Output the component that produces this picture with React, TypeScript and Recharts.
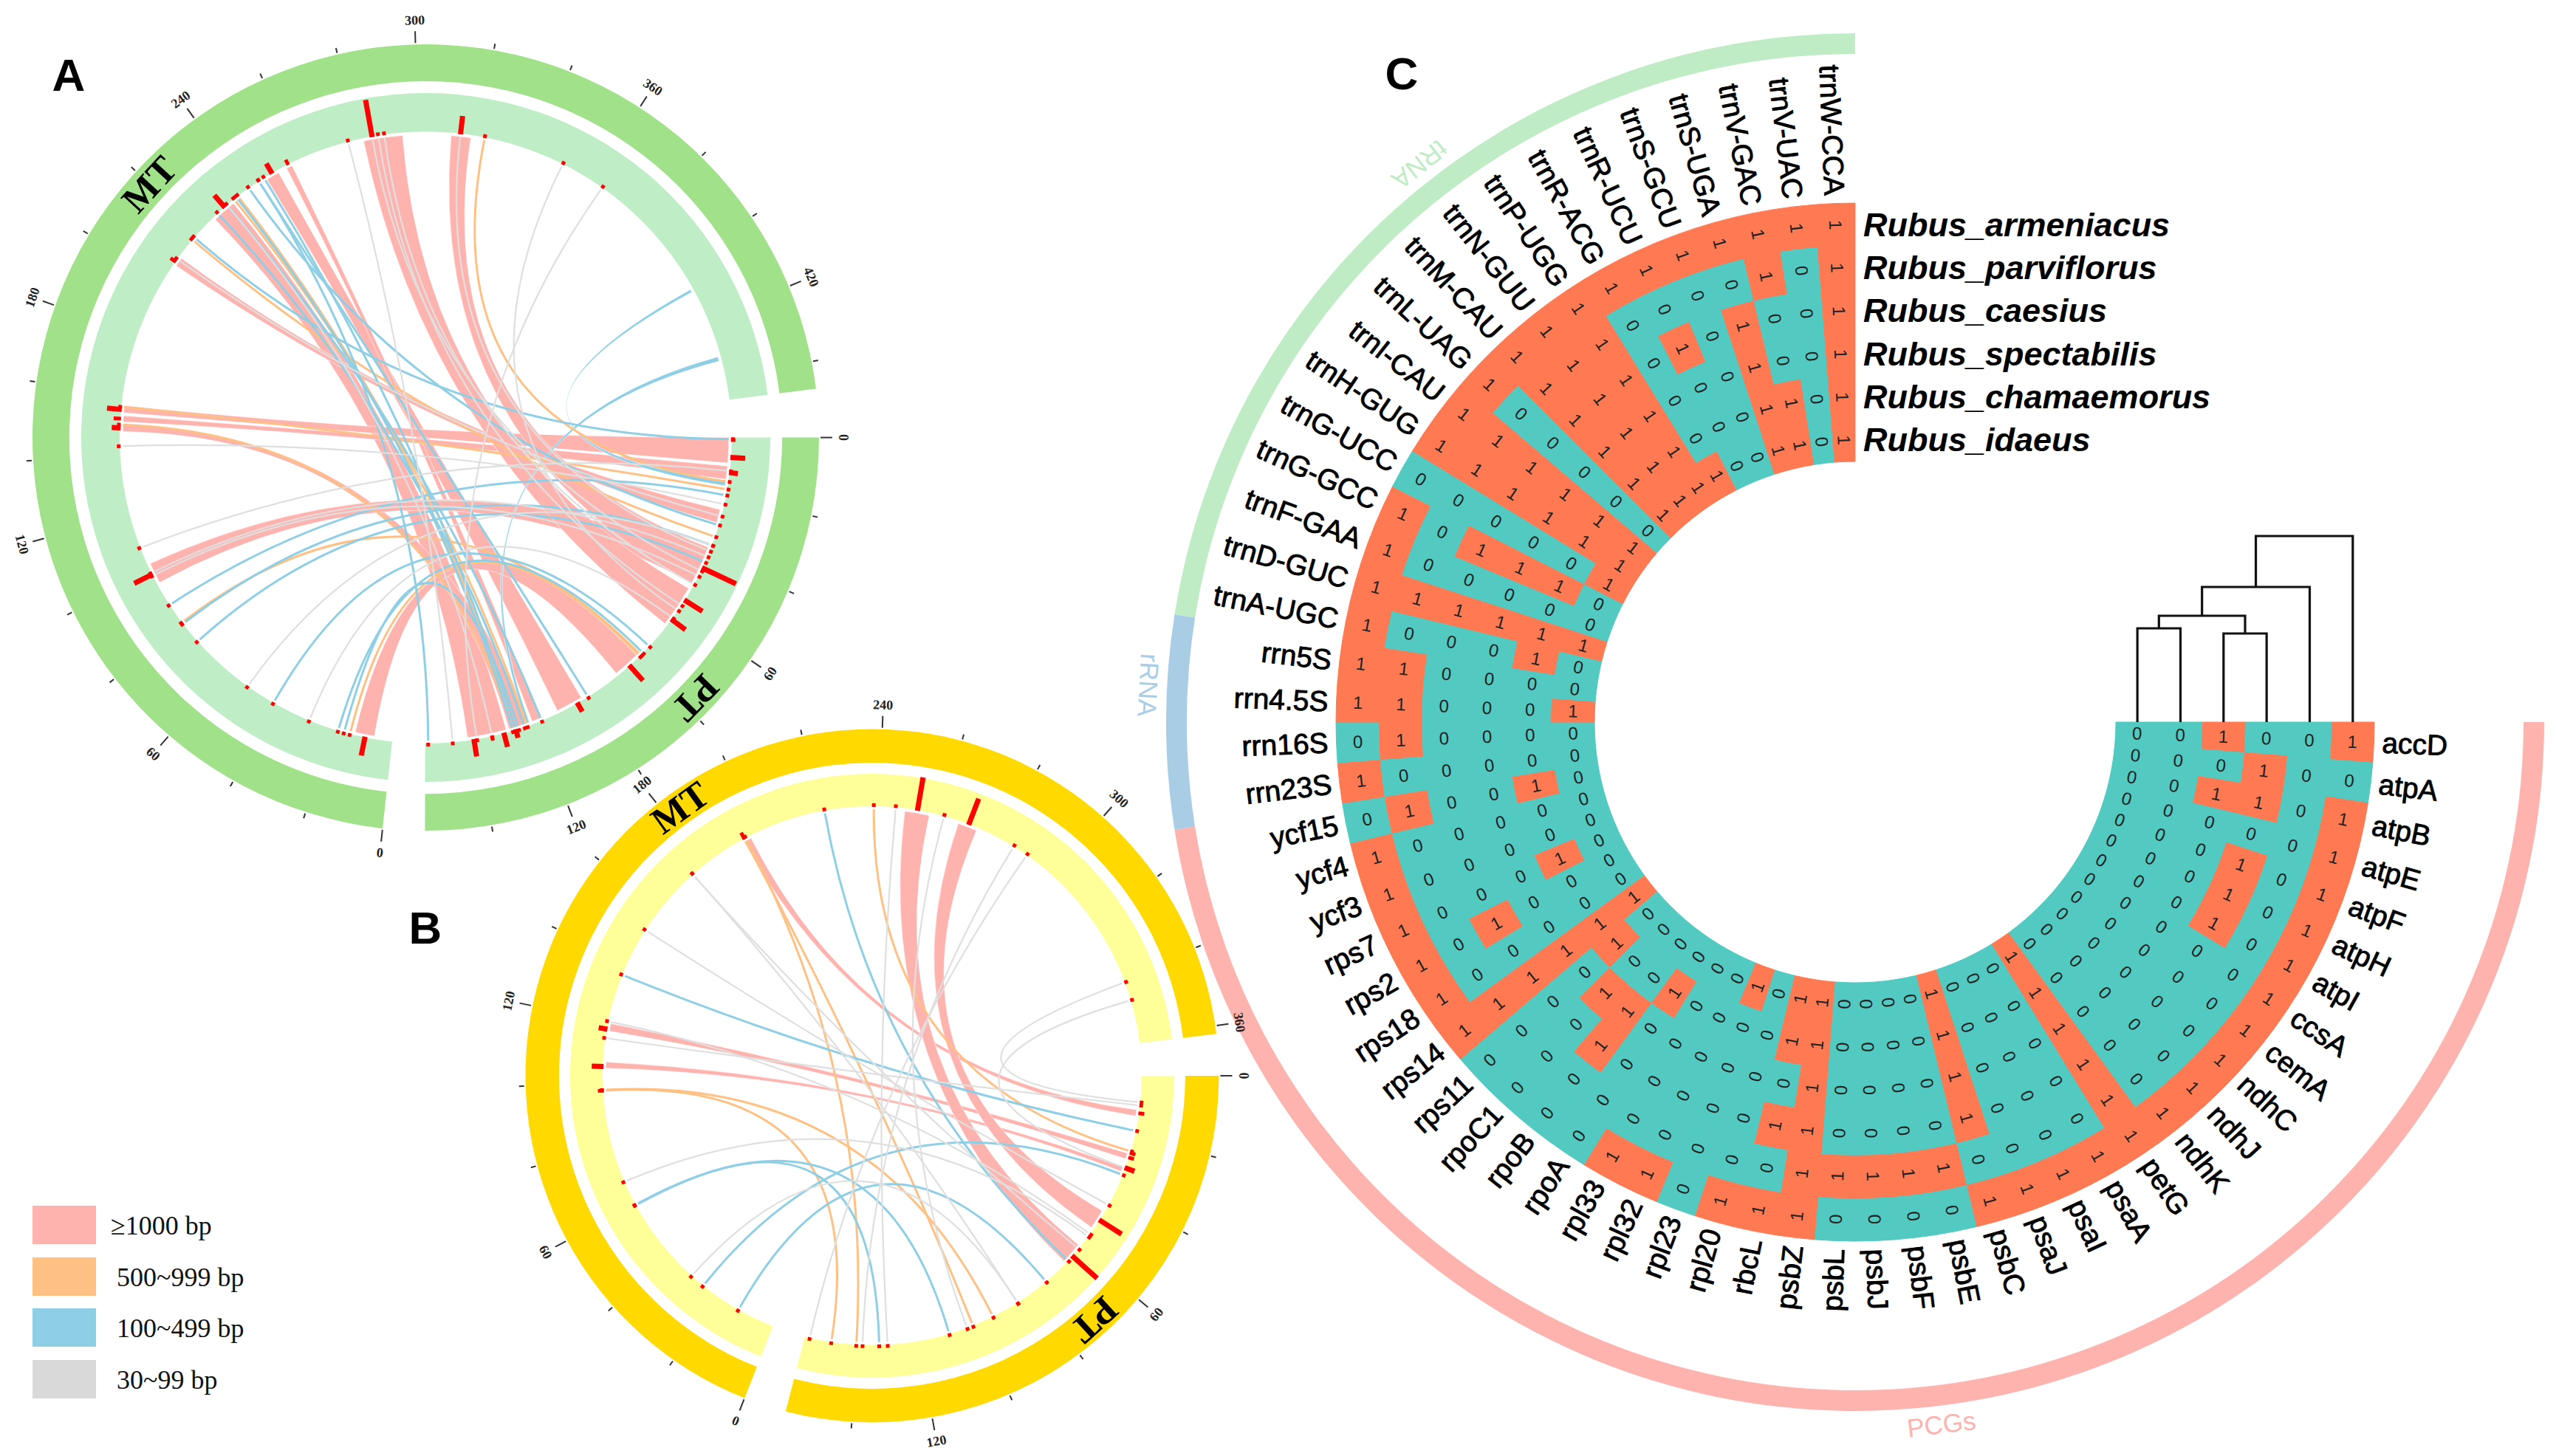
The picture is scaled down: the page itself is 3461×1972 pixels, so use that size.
import React from "react"
import { Pie, PieChart, Surface } from "recharts"

const WIDTH = 3461
const HEIGHT = 1972
const SANS = "'Liberation Sans', Arial, sans-serif"
const SERIF = "'Liberation Serif', 'Times New Roman', serif"

// panel C: presence of each gene, outer ring (armeniacus) to inner ring (idaeus)
const species = [
  "Rubus_armeniacus", "Rubus_parviflorus", "Rubus_caesius",
  "Rubus_spectabilis", "Rubus_chamaemorus", "Rubus_idaeus",
]
const genes = [
  "accD", "atpA", "atpB", "atpE", "atpF", "atpH", "atpI", "ccsA", "cemA", "ndhC",
  "ndhJ", "ndhK", "petG", "psaA", "psaI", "psaJ", "psbC", "psbE", "psbF", "psbJ",
  "psbL", "psbZ", "rbcL", "rpl20", "rpl23", "rpl32", "rpl33", "rpoA", "rpoB", "rpoC1",
  "rps11", "rps14", "rps18", "rps2", "rps7", "ycf3", "ycf4", "ycf15", "rrn23S", "rrn16S",
  "rrn4.5S", "rrn5S", "trnA-UGC", "trnD-GUC", "trnF-GAA", "trnG-GCC", "trnG-UCC", "trnH-GUG", "trnI-CAU", "trnL-UAG",
  "trnM-CAU", "trnN-GUU", "trnP-UGG", "trnR-ACG", "trnR-UCU", "trnS-GCU", "trnS-UGA", "trnV-GAC", "trnV-UAC", "trnW-CCA",
]
const presence = [
  "100100", "001000", "101100", "100000", "101000", "101000", "101000", "100000", "100000", "100000",
  "100000", "100000", "111111", "100000", "100000", "100000", "101111", "010000", "010000", "010000",
  "010000", "111111", "101011", "100000", "000001", "100000", "100000", "000010", "001100", "000100",
  "000010", "111111", "100000", "101000", "100010", "100000", "100000", "010010", "100000", "010000",
  "110001", "110000", "100010", "111111", "100000", "101110", "000001", "111111", "111111", "100000",
  "111111", "111111", "111111", "100001", "101000", "100000", "101111", "110011", "100000", "111111",
]
const bandGroups = ["PCGs", "rRNA", "tRNA"]
const bandCounts = [38, 4, 18]
const bandColors = ["#FFB3AE", "#A8CDE5", "#BFECC5"]
const bandLabelClock = [83, 183, 232]

// dendrogram over the six rings: column or node position, merge height
const dendroMerges = [
  [0, 0, 1, 0, 127],
  [2, 0, 3, 0, 120],
  [0.5, 127, 2.5, 120, 144],
  [1.5, 144, 4, 0, 183],
  [2.75, 183, 5, 0, 252],
]

// panels A and B: ribbons are [mtFrom, mtTo, ptFrom, ptTo, class] in kb
// threads are [mt, pt, class], marks are [kb, bar length]
const ribbonsA = [
  [226, 234, 130, 143, 0], [247.6, 252, 103, 112, 0], [255, 257, 118, 121, 0],
  [206, 209, 24, 28.4, 0], [154, 156.4, 0, 8.4, 0], [151, 153, 9.4, 13.8, 0],
  [147.8, 150.5, 122.6, 129, 0], [96, 103, 41, 50, 0], [6, 12.5, 80, 89, 0],
  [282, 295, 52, 66, 0], [311, 317.5, 37, 50, 0],
  [432.5, 434, 122, 123, 2], [408.5, 409.5, 14.5, 16, 2],
]
const threadsA = [
  [155.8, 17, 1], [150, 128, 1], [216, 33, 1], [236.6, 127, 1], [322, 14.5, 1], [81, 79, 1], [14, 79.5, 1], [235, 123, 1],
  [217, 0.5, 2], [241, 29, 2], [247, 127, 2], [245, 101, 2], [88, 19, 2], [73, 42, 2], [41, 75, 2], [18, 78, 2],
  [16, 126, 2], [80.5, 36, 2], [232, 118, 2], [236, 128, 2], [228, 124, 2], [245, 156, 2],
  [277, 148, 3], [349, 60, 3], [364, 140, 3], [143, 22, 3], [109, 11, 3], [51, 36, 3], [28, 63, 3], [287, 58, 3],
  [289, 50, 3], [285, 45, 3], [314, 38, 3], [100, 40, 3], [208, 26, 3], [232, 135, 3], [99, 47, 3],
]
const mtMarksA = [
  [285, 51], [314, 25], [231, 22], [250, 16], [256, 8], [207, 9], [155, 20], [152, 10], [149, 12], [99.5, 28], [9, 26],
]
const ptMarksA = [
  [44, 51], [56, 29], [63.6, 24], [84, 28], [105, 14], [127, 12], [131, 20], [141, 24], [135, 7], [6.5, 20], [11.5, 12], [0.8, 6],
]
const ribbonsB = [
  [194.5, 197, 11, 13, 0], [117, 119.5, 25.3, 27.2, 0], [105, 107, 30, 31.5, 0],
  [248, 256, 59, 66, 0], [265.7, 272, 45.6, 52, 0],
]
const threadsB = [
  [238, 24.4, 1], [195, 102, 1], [195.5, 140, 1], [97.8, 148, 1], [98, 95, 1],
  [222.2, 65, 2], [135.5, 17.7, 2], [59.5, 132.7, 2], [59.7, 110, 2], [25.8, 32.4, 2], [12.2, 74.7, 2],
  [175, 86, 3], [151.6, 43, 3], [120, 54, 3], [114.6, 9.5, 3], [290, 155, 3], [285, 138, 3], [260.7, 104, 3],
  [348, 30, 3], [342, 8.5, 3], [67.8, 55, 3], [30.6, 86, 3], [245, 130, 3], [175, 60, 3],
]
const mtMarksB = [[252, 46], [269, 38], [195, 10], [117.5, 12], [105.5, 16], [97.8, 8]]
const ptMarksB = [[63, 46], [48.6, 36], [12, 8], [30, 14], [25, 8], [26.5, 8]]

const mtTicksA = [0, 20, 40, 60, 80, 100, 120, 140, 160, 180, 200, 220, 240, 260, 280, 300, 320, 340, 360, 380, 400, 420, 440]
const mtTicksB = [0, 20, 40, 60, 80, 100, 120, 140, 160, 180, 200, 220, 240, 260, 280, 300, 320, 340, 360]
const ptTicks = [0, 20, 40, 60, 80, 100, 120, 140]

const linkColors = ["#FFB3AE", "#FFC084", "#8FCFE6", "#DFDFDF"]
const legendColors = ["#FFB3AE", "#FFC084", "#8FCFE6", "#D9D9D9"]
const legendLabels = ["≥1000 bp", "500~999 bp", "100~499 bp", "30~99 bp"]

const panelA = {
  letter: "A", cx: 576.5, cy: 592.6, outer: [482.6, 532.5], inner: [414.4, 466.5], kbDeg: 0.574,
  mtStart: 96.3, mtLen: 447, ptLen: 157, outerFill: "#A0E189", innerFill: "#BEEDC6",
  ribbons: ribbonsA, threads: threadsA, mtMarks: mtMarksA, ptMarks: ptMarksA, mtTicks: mtTicksA,
  mtLabelClock: 222.5, ptLabelClock: 44,
}
const panelB = {
  letter: "B", cx: 1181, cy: 1457, outer: [424, 469.5], inner: [365, 409], kbDeg: 0.667,
  mtStart: 111.6, mtLen: 362, ptLen: 156.6, outerFill: "#FFD900", innerFill: "#FFFF99",
  ribbons: ribbonsB, threads: threadsB, mtMarks: mtMarksB, ptMarks: ptMarksB, mtTicks: mtTicksB,
  mtLabelClock: 234.4, ptLabelClock: 47.7,
}
const heat = { cx: 2512, cy: 978, rIn: 353, rOut: 703, bandIn: 905, bandOut: 933 }
const ringWidth = (heat.rOut - heat.rIn) / species.length

const rad = (d: number) => (d * Math.PI) / 180
const polar = (cx: number, cy: number, r: number, clock: number) => [cx + r * Math.cos(rad(clock)), cy + r * Math.sin(rad(clock))]
const upright = (clock: number) => {
  const c = ((clock % 360) + 360) % 360
  return c > 90 && c <= 270 ? c - 180 : c
}

const mtClock = (p: any, kb: number) => p.mtStart + kb * p.kbDeg
const ptClock = (p: any, kb: number) => kb * p.kbDeg

function Links({ panel }: { panel: any }) {
  const { cx, cy } = panel
  const r = panel.inner[0] - 4
  const at = (clock: number) => polar(cx, cy, r, clock).map((v) => v.toFixed(1)).join(" ")
  return (
    <g>
      {panel.ribbons.map(([m0, m1, p0, p1, cls]: number[], i: number) => (
        <path
          key={i}
          d={`M${at(mtClock(panel, m0))} A${r} ${r} 0 0 1 ${at(mtClock(panel, m1))} Q${cx} ${cy} ${at(ptClock(panel, p0))} A${r} ${r} 0 0 1 ${at(ptClock(panel, p1))} Q${cx} ${cy} ${at(mtClock(panel, m0))}Z`}
          fill={linkColors[cls]}
          stroke="#fff"
          strokeWidth={0.6}
        />
      ))}
      {panel.threads.map(([m, p, cls]: number[], i: number) => (
        <path
          key={i}
          d={`M${at(mtClock(panel, m))} Q${cx} ${cy} ${at(ptClock(panel, p))}`}
          fill="none"
          stroke={linkColors[cls]}
          strokeWidth={cls === 3 ? 2.2 : 3}
        />
      ))}
    </g>
  )
}

function Marks({ panel }: { panel: any }) {
  const { cx, cy } = panel
  const r = panel.inner[0] - 1
  const bar = (clock: number, len: number, key: string) => {
    const [x1, y1] = polar(cx, cy, r, clock)
    const [x2, y2] = polar(cx, cy, r + len, clock)
    return <line key={key} x1={x1} y1={y1} x2={x2} y2={y2} stroke="#FF0000" strokeWidth={len > 10 ? 7 : 5} />
  }
  return (
    <g>
      {panel.threads.map(([m, p]: number[], i: number) => (
        <g key={i}>
          {bar(mtClock(panel, m), 5, "m")}
          {bar(ptClock(panel, p), 5, "p")}
        </g>
      ))}
      {panel.mtMarks.map(([kb, len]: number[], i: number) => bar(mtClock(panel, kb), len, `m${i}`))}
      {panel.ptMarks.map(([kb, len]: number[], i: number) => bar(ptClock(panel, kb), len, `p${i}`))}
    </g>
  )
}

function Ticks({ panel }: { panel: any }) {
  const { cx, cy } = panel
  const rOut = panel.outer[1]
  const tick = (kb: number, clock: number, key: string) => {
    const major = kb % 60 === 0
    const [x1, y1] = polar(cx, cy, rOut + 2, clock)
    const [x2, y2] = polar(cx, cy, rOut + (major ? 18 : 9), clock)
    const [tx, ty] = polar(cx, cy, rOut + 33, clock)
    return (
      <g key={key}>
        <line x1={x1} y1={y1} x2={x2} y2={y2} stroke="#333" strokeWidth={2} />
        {major && (
          <text
            x={tx}
            y={ty}
            transform={`rotate(${upright(clock + 90)} ${tx} ${ty})`}
            textAnchor="middle"
            dominantBaseline="central"
            fontFamily={SERIF}
            fontWeight={700}
            fontSize={18}
            fill="#222"
          >
            {kb}
          </text>
        )}
      </g>
    )
  }
  const name = (label: string, clock: number) => {
    const [x, y] = polar(cx, cy, (panel.outer[0] + panel.outer[1]) / 2, clock)
    return (
      <text
        x={x}
        y={y}
        transform={`rotate(${clock + 90} ${x} ${y})`}
        textAnchor="middle"
        dominantBaseline="central"
        fontFamily={SERIF}
        fontWeight={700}
        fontSize={51}
        fill="#000"
      >
        {label}
      </text>
    )
  }
  return (
    <g>
      {panel.mtTicks.map((kb: number) => tick(kb, mtClock(panel, kb), `m${kb}`))}
      {ptTicks.map((kb: number) => tick(kb, ptClock(panel, kb), `p${kb}`))}
      {name("MT", panel.mtLabelClock)}
      {name("PT", panel.ptLabelClock)}
    </g>
  )
}

function Dendrogram() {
  const colX = (c: number) => heat.cx + heat.rIn + (c + 0.5) * ringWidth
  const path = dendroMerges
    .map(([a, ah, b, bh, h]) => `M${colX(a)} ${heat.cy - ah} V${heat.cy - h} H${colX(b)} V${heat.cy - bh}`)
    .join(" ")
  return <path d={path} fill="none" stroke="#111" strokeWidth={3.2} />
}

function RowLabels() {
  return (
    <g>
      {species.map((s, i) => (
        <text
          key={s}
          x={heat.cx + 11}
          y={heat.cy - heat.rOut + (i + 0.5) * ringWidth}
          dominantBaseline="central"
          fontFamily={SANS}
          fontWeight={700}
          fontStyle="italic"
          fontSize={45}
          fill="#000"
        >
          {s}
        </text>
      ))}
    </g>
  )
}

function LegendBox() {
  const rectY = [1633, 1703, 1772, 1842]
  const textX = [150, 158, 158, 158]
  return (
    <g>
      {legendLabels.map((label, i) => (
        <g key={label}>
          <rect x={44} y={rectY[i]} width={86} height={52} fill={legendColors[i]} />
          <text x={textX[i]} y={rectY[i] + 39} fontFamily={SERIF} fontSize={36} fill="#111">
            {label}
          </text>
        </g>
      ))}
    </g>
  )
}

function Letters() {
  const letters = [["A", 93, 101], ["B", 576, 1256], ["C", 1898, 99]]
  return (
    <g>
      {letters.map(([t, x, y]) => (
        <text key={t as string} x={x} y={y} textAnchor="middle" dominantBaseline="central" fontFamily={SANS} fontWeight={700} fontSize={62} fill="#000">
          {t}
        </text>
      ))}
    </g>
  )
}

const digitLabel = (p: any) => {
  const clock = -p.midAngle
  const [x, y] = polar(p.cx, p.cy, (p.innerRadius + p.outerRadius) / 2, clock)
  return (
    <text
      key={p.index}
      x={x}
      y={y}
      transform={`rotate(${upright(clock)} ${x} ${y})`}
      textAnchor="middle"
      dominantBaseline="central"
      fontFamily={SANS}
      fontSize={24}
      fill="#222"
    >
      {p.digit}
    </text>
  )
}

const geneLabel = (p: any) => {
  const clock = -p.midAngle
  const [x, y] = polar(p.cx, p.cy, p.outerRadius + 10, clock)
  return (
    <text
      key={p.index}
      x={x}
      y={y}
      transform={`rotate(${upright(clock)} ${x} ${y})`}
      textAnchor={clock <= 90 ? "start" : "end"}
      dominantBaseline="central"
      fontFamily={SANS}
      fontSize={39}
      stroke="#000"
      strokeWidth={0.9}
      fill="#000"
    >
      {p.gene}
    </text>
  )
}

const bandLabel = (p: any) => {
  const clock = bandLabelClock[p.index]
  const [x, y] = polar(p.cx, p.cy, 958, clock)
  return (
    <text
      key={p.index}
      x={x}
      y={y}
      transform={`rotate(${clock + 270} ${x} ${y})`}
      textAnchor="middle"
      dominantBaseline="central"
      fontFamily={SANS}
      fontSize={35}
      fill={p.fill}
    >
      {p.group}
    </text>
  )
}

const ringCells = (row: number) =>
  genes.map((gene, g) => {
    const digit = presence[g][row]
    const fill = digit === "1" ? "#FF7A52" : "#52C9C1"
    return { gene, digit, value: 1, fill, stroke: fill }
  })
const bandData = bandGroups.map((group, i) => ({ group, value: bandCounts[i], fill: bandColors[i] }))

const trackPie = (panel: any, radii: number[], fill: string, key: string) => {
  const mtEnd = panel.mtStart + panel.mtLen * panel.kbDeg
  const ptEnd = panel.ptLen * panel.kbDeg
  return [
    <Pie
      key={`${key}-mt`}
      data={[{ name: "MT", value: panel.mtLen, fill }]}
      dataKey="value"
      cx={panel.cx}
      cy={panel.cy}
      innerRadius={radii[0]}
      outerRadius={radii[1]}
      startAngle={-panel.mtStart}
      endAngle={-mtEnd}
      stroke="none"
      isAnimationActive={false}
    />,
    <Pie
      key={`${key}-pt`}
      data={[{ name: "PT", value: panel.ptLen, fill }]}
      dataKey="value"
      cx={panel.cx}
      cy={panel.cy}
      innerRadius={radii[0]}
      outerRadius={radii[1]}
      startAngle={0}
      endAngle={-ptEnd}
      stroke="none"
      isAnimationActive={false}
    />,
  ]
}

export default function App() {
  return (
    <div style={{ position: "absolute", left: 0, top: 0, width: WIDTH, height: HEIGHT, background: "#fff" }}>
      <PieChart width={WIDTH} height={HEIGHT} margin={{ top: 0, right: 0, bottom: 0, left: 0 }}>
        {trackPie(panelA, panelA.outer, panelA.outerFill, "a-outer")}
        {trackPie(panelA, panelA.inner, panelA.innerFill, "a-inner")}
        {trackPie(panelB, panelB.outer, panelB.outerFill, "b-outer")}
        {trackPie(panelB, panelB.inner, panelB.innerFill, "b-inner")}
        <Pie
          data={bandData}
          dataKey="value"
          cx={heat.cx}
          cy={heat.cy}
          innerRadius={heat.bandIn}
          outerRadius={heat.bandOut}
          startAngle={0}
          endAngle={-270}
          stroke="none"
          label={bandLabel}
          labelLine={false}
          isAnimationActive={false}
        />
        {species.map((s, row) => (
          <Pie
            key={s}
            data={ringCells(row)}
            dataKey="value"
            cx={heat.cx}
            cy={heat.cy}
            innerRadius={heat.rOut - (row + 1) * ringWidth}
            outerRadius={heat.rOut - row * ringWidth}
            startAngle={0}
            endAngle={-270}
            stroke=""
            label={digitLabel}
            labelLine={false}
            isAnimationActive={false}
          />
        ))}
        <Pie
          data={ringCells(0).map((c) => ({ ...c, fill: "none", stroke: "none" }))}
          dataKey="value"
          cx={heat.cx}
          cy={heat.cy}
          innerRadius={heat.rOut}
          outerRadius={heat.rOut + 1}
          startAngle={0}
          endAngle={-270}
          stroke="none"
          label={geneLabel}
          labelLine={false}
          isAnimationActive={false}
        />
      </PieChart>
      <div style={{ position: "absolute", left: 0, top: 0, width: WIDTH, height: HEIGHT, pointerEvents: "none" }}>
        <Surface width={WIDTH} height={HEIGHT}>
          <Links panel={panelA} />
          <Marks panel={panelA} />
          <Ticks panel={panelA} />
          <Links panel={panelB} />
          <Marks panel={panelB} />
          <Ticks panel={panelB} />
          <Dendrogram />
          <RowLabels />
          <LegendBox />
          <Letters />
        </Surface>
      </div>
    </div>
  )
}
